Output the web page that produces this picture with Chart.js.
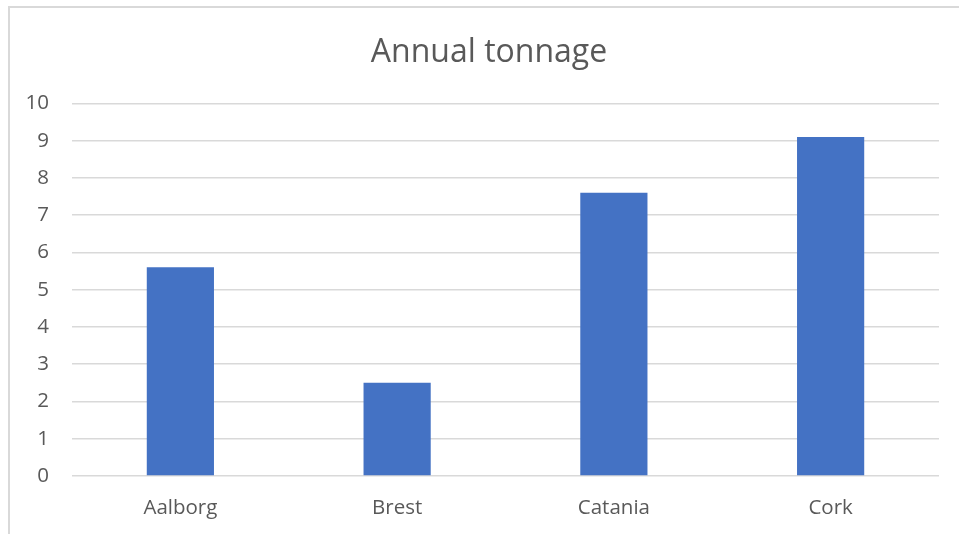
<!DOCTYPE html>
<html>
<head>
<meta charset="utf-8">
<script src="https://cdn.jsdelivr.net/npm/chart.js@4"></script>
<style>
  html, body { margin: 0; padding: 0; background: #fff; overflow: hidden; }
  .chart-box {
    position: absolute; left: 8px; top: 6px;
    width: 958px; height: 530px;
    border: 2px solid #d9d9d9; background: #fff;
  }
  canvas { display: block; }
</style>
</head>
<body>
<div class="chart-box"><canvas id="chart" width="958" height="530"></canvas></div>
<script>
// chart data
const categories = ['Aalborg', 'Brest', 'Catania', 'Cork'];
const tonnage = [5.6, 2.5, 7.6, 9.1];
const titleText = 'Annual tonnage';

const TEXT = '#595959';
const GRID = '#d9d9d9';

const ctx = document.getElementById('chart').getContext('2d');
new Chart(ctx, {
    type: 'bar',
    data: {
        labels: categories,
        datasets: [{
            label: titleText,
            data: tonnage,
            backgroundColor: '#4472c4',
            borderWidth: 0,
            categoryPercentage: 1,
            barPercentage: 0.31
        }]
    },
    options: {
        responsive: false,
        animation: false,
        plugins: {
            legend: { display: false },
            tooltip: { enabled: false },
            title: {
                display: true,
                text: titleText,
                color: TEXT,
                font: { family: 'Open Sans', size: 32, weight: 'normal' },
                padding: { top: 26, bottom: 31 }
            }
        },
        scales: {
            x: {
                grid: { display: false },
                border: { display: false },
                ticks: {
                    color: TEXT,
                    font: { family: 'Open Sans', size: 20.5 },
                    padding: 12
                },
                afterFit: (scale) => { scale.height = 62; }
            },
            y: {
                min: 0,
                max: 10,
                border: { display: false },
                grid: { color: GRID, lineWidth: 1.5, drawTicks: false },
                ticks: {
                    stepSize: 1,
                    color: TEXT,
                    font: { family: 'Open Sans', size: 20.5 },
                    padding: 23
                },
                afterFit: (scale) => { scale.width = 62; }
            },
            // empty right axis only keeps the right margin, so the title stays centred on the whole box
            yRight: {
                position: 'right',
                display: true,
                grid: { display: false },
                border: { display: false },
                ticks: { display: false },
                afterFit: (scale) => { scale.width = 29; }
            }
        }
    }
});
</script>
</body>
</html>
